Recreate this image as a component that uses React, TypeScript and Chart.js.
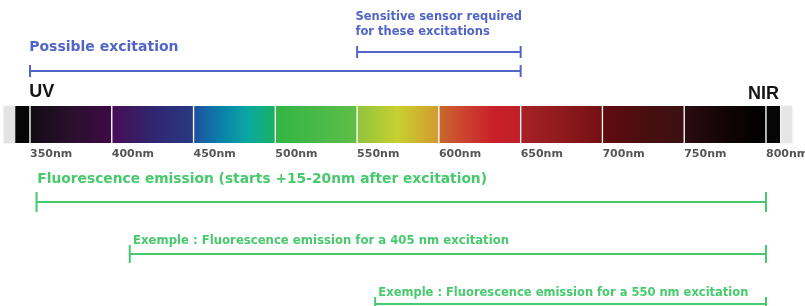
import React, { useEffect, useRef } from "react";
import { Chart, registerables } from "chart.js";

Chart.register(...registerables);

// ---------- data ----------
const TICK_VALUES = [350, 400, 450, 500, 550, 600, 650, 700, 750, 800];
const TICK_SUFFIX = "nm";

const SPECTRUM_START = [334, 341, 350, 400, 450, 500, 550, 600, 650, 700, 750, 800, 809.5];
const SPECTRUM_END = [341, 350, 400, 450, 500, 550, 600, 650, 700, 750, 800, 809, 816];
const SPECTRUM_STOPS: string[][] = [
  ["#e3e3e3", "#e3e3e3"],
  ["#060606", "#060606"],
  ["#120c14", "#2a0f2c", "#3c0a44"],
  ["#480e55", "#302570", "#283a82"],
  ["#1f4fa0", "#0a80aa", "#0aa8a2", "#1ab062"],
  ["#33b545", "#48b948", "#5fbe48"],
  ["#8fc43e", "#c8d030", "#d39a2e"],
  ["#c86a2a", "#cc4030", "#c82028", "#c01f28"],
  ["#a82226", "#8e1a1c", "#741012"],
  ["#620c0e", "#4a0e10", "#3a1012"],
  ["#2a0c10", "#120406", "#000000"],
  ["#060606", "#060606"],
  ["#e6e6e6", "#e6e6e6"],
];

const RANGE_NAMES = [
  "Possible excitation",
  "Sensitive sensor",
  "Fluorescence emission",
  "Emission 405",
  "Emission 550",
];
const RANGE_START = [350, 550, 354, 411, 561];
const RANGE_END = [650, 650, 800, 800, 800];

const LABEL_TEXTS = [
  "Sensitive sensor required",
  "for these excitations",
  "Possible excitation",
  "UV",
  "NIR",
  "Fluorescence emission (starts +15-20nm after excitation)",
  "Exemple : Fluorescence emission for a 405 nm excitation",
  "Exemple : Fluorescence emission for a 550 nm excitation",
];
const LABEL_ANCHOR_NM = [549, 549, 349.5, 349.5, 808, 354.5, 413, 563];

// ---------- styles / layout ----------
const BLUE = "#5164c8";
const GREEN = "#47c96d";
const RANGE_COLORS = [BLUE, BLUE, GREEN, GREEN, GREEN];
const RANGE_ROWS = [71, 52, 202, 254, 304];
const RANGE_CAP = [6, 6, 10, 9, 7];
const BAR_ROW = 124.5;
const AXIS_ROW = 144.5;

const LABEL_ROWS = [17.5, 32.5, 47, 92, 94, 179, 241, 293];
const LABEL_ALIGN: CanvasTextAlign[] = ["left", "left", "left", "left", "right", "left", "left", "left"];
const LABEL_FONTS = [
  "bold 11.5px 'DejaVu Sans'",
  "bold 11.5px 'DejaVu Sans'",
  "bold 14px 'DejaVu Sans'",
  "bold 18px 'Liberation Sans'",
  "bold 18px 'Liberation Sans'",
  "bold 13.8px 'DejaVu Sans'",
  "bold 11.7px 'DejaVu Sans'",
  "bold 11.5px 'DejaVu Sans'",
];
const LABEL_COLORS = [BLUE, BLUE, BLUE, "#141414", "#141414", GREEN, GREEN, GREEN];

const X_MIN = 331.66;
const X_MAX = 823.85;

const labelPlugin = {
  id: "diagramLabels",
  afterDatasetsDraw(chart: any) {
    const { ctx } = chart;
    const xs = chart.scales.x;
    const ys = chart.scales.y;
    ctx.save();
    ctx.textBaseline = "middle";
    LABEL_TEXTS.forEach((t, i) => {
      ctx.font = LABEL_FONTS[i];
      ctx.fillStyle = LABEL_COLORS[i];
      ctx.textAlign = LABEL_ALIGN[i];
      ctx.fillText(t, xs.getPixelForValue(LABEL_ANCHOR_NM[i]), ys.getPixelForValue(LABEL_ROWS[i]));
    });
    ctx.restore();
  },
};

export default function App() {
  const ref = useRef<HTMLCanvasElement | null>(null);

  useEffect(() => {
    if (!ref.current) return;

    const barData = SPECTRUM_START.map((s, i) => ({ x: [s, SPECTRUM_END[i]], y: BAR_ROW }));
    const n = SPECTRUM_START.length;
    const borderWidths = SPECTRUM_START.map((_, i) => {
      if (i === 0 || i === n - 1) return 0;
      if (i === 1) return { left: 0, right: 1, top: 0, bottom: 0 };
      return { left: 1, right: 1, top: 0, bottom: 0 };
    });

    const spectrum: any = {
      type: "bar",
      label: "Spectrum",
      indexAxis: "y",
      data: barData,
      barThickness: 37,
      borderSkipped: false,
      borderWidth: borderWidths,
      borderColor: "#ffffff",
      backgroundColor: (c: any) => {
        const chart = c.chart;
        if (!chart.chartArea) return "#000";
        const i = c.dataIndex;
        const xs = chart.scales.x;
        const x0 = xs.getPixelForValue(SPECTRUM_START[i]);
        const x1 = xs.getPixelForValue(SPECTRUM_END[i]);
        const g = chart.ctx.createLinearGradient(x0, 0, x1, 0);
        const stops = SPECTRUM_STOPS[i];
        stops.forEach((col, k) => g.addColorStop(k / (stops.length - 1), col));
        return g;
      },
      order: 2,
    };

    const ranges: any[] = RANGE_NAMES.map((name, i) => ({
      type: "line",
      label: name,
      data: [
        { x: RANGE_START[i], y: RANGE_ROWS[i] },
        { x: RANGE_END[i], y: RANGE_ROWS[i] },
      ],
      borderColor: RANGE_COLORS[i],
      borderWidth: 2,
      pointStyle: "line",
      rotation: 90,
      pointRadius: RANGE_CAP[i],
      pointBorderWidth: 2,
      pointBorderColor: RANGE_COLORS[i],
      pointBackgroundColor: RANGE_COLORS[i],
      fill: false,
      clip: false,
      order: 1,
    }));

    const chart = new Chart(ref.current, {
      type: "line",
      data: { datasets: [spectrum, ...ranges] },
      options: {
        animation: false,
        responsive: false,
        maintainAspectRatio: false,
        events: [],
        layout: { padding: 0, autoPadding: false },
        plugins: { legend: { display: false }, tooltip: { enabled: false } },
        scales: {
          x: {
            type: "linear",
            min: X_MIN,
            max: X_MAX,
            offset: false,
            position: { y: AXIS_ROW } as any,
            grid: { display: false, drawTicks: false },
            border: { display: false },
            afterBuildTicks: (scale: any) => {
              scale.ticks = TICK_VALUES.map((v) => ({ value: v }));
            },
            afterFit: (scale: any) => {
              scale.paddingLeft = 0;
              scale.paddingRight = 0;
              scale.paddingTop = 0;
              scale.paddingBottom = 0;
            },
            ticks: {
              autoSkip: false,
              maxRotation: 0,
              minRotation: 0,
              align: "start",
              padding: 3,
              color: "#555555",
              font: { family: "'DejaVu Sans'", size: 11, weight: "bold" },
              callback: (v: any) => `${v}${TICK_SUFFIX}`,
            },
          },
          y: {
            type: "linear",
            display: false,
            min: 0,
            max: 306,
            reverse: true,
            offset: false,
          },
        },
      } as any,
      plugins: [labelPlugin],
    });

    return () => chart.destroy();
  }, []);

  return (
    <div style={{ position: "fixed", left: 0, top: 0, width: 805, height: 306, background: "#fff" }}>
      <canvas ref={ref} width={805} height={306} style={{ width: 805, height: 306, display: "block" }} />
    </div>
  );
}
